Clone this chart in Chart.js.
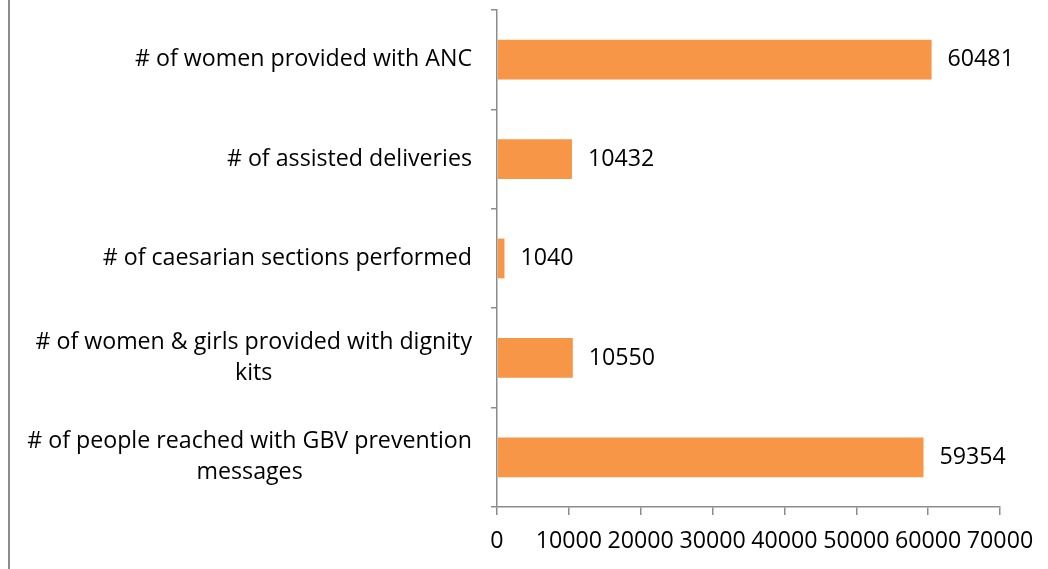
<!DOCTYPE html>
<html>
<head>
<meta charset="utf-8">
<script src="https://cdn.jsdelivr.net/npm/chart.js@4/dist/chart.umd.min.js"></script>
<style>
html, body { margin: 0; padding: 0; background: #fff; }
#wrap { position: relative; width: 1048px; height: 569px; }
#frame { position: absolute; left: 8px; top: 0; height: 569px; border-left: 2px solid #8c8c8c; }
canvas { position: absolute; left: 0; top: 0; }
</style>
</head>
<body>
<div id="wrap">
    <canvas id="chart" width="1048" height="569"></canvas>
    <div id="frame"></div>
</div>
<script>
// category labels, one entry per line (wrapped like the original)
var categories = [
    ['# of women provided with ANC'],
    ['# of assisted deliveries'],
    ['# of caesarian sections performed'],
    ['# of women & girls provided with dignity', 'kits'],
    ['# of people reached with GBV prevention', 'messages']
];
var values = [60481, 10432, 1040, 10550, 59354];
var x_min = 0;
var x_max = 70000;
var x_step = 10000;

var font_family = '"Open Sans", "Noto Sans", sans-serif';
var font_size = 23.2;
var line_height = 31;
var bar_color = '#F79646';
var axis_color = '#8c8c8c';

var category_labels_plugin = {
    id: 'category_labels',
    afterDraw: function(chart)
    {
        var ctx = chart.ctx;
        var y_scale = chart.scales.y;
        ctx.save();
        ctx.font = font_size + 'px ' + font_family;
        ctx.fillStyle = '#000';
        ctx.textAlign = 'center';
        ctx.textBaseline = 'middle';
        categories.forEach(function(lines, i) {
            var widest = Math.max.apply(null, lines.map(l => ctx.measureText(l).width));
            var cx = y_scale.right - 25 - widest / 2;
            var cy = y_scale.getPixelForValue(i);
            var top = cy - (lines.length - 1) * line_height / 2;
            lines.forEach((l, j) => ctx.fillText(l, cx, top + j * line_height));
        });
        ctx.restore();
    }
};

var value_labels_plugin = {
    id: 'value_labels',
    afterDatasetsDraw: function(chart)
    {
        var ctx = chart.ctx;
        var meta = chart.getDatasetMeta(0);
        ctx.save();
        ctx.font = font_size + 'px ' + font_family;
        ctx.fillStyle = '#000';
        ctx.textAlign = 'left';
        ctx.textBaseline = 'middle';
        meta.data.forEach(function(bar, i) {
            ctx.fillText(String(values[i]), bar.x + 16, bar.y);
        });
        ctx.restore();
    }
};

var chart = new Chart(document.getElementById('chart'), {
    type: 'bar',
    data: {
        labels: categories.map(c => c.join(' ')),
        datasets: [{
            data: values,
            backgroundColor: bar_color,
            borderWidth: 0,
            barPercentage: 0.5,
            categoryPercentage: 0.8
        }]
    },
    options: {
        indexAxis: 'y',
        responsive: false,
        animation: false,
        layout: { padding: { left: 0, top: 10, right: 48, bottom: 10 } },
        plugins: {
            legend: { display: false },
            tooltip: { enabled: false }
        },
        scales: {
            x: {
                min: x_min,
                max: x_max,
                border: { color: axis_color, width: 1.5 },
                grid: { drawOnChartArea: false, drawTicks: true, tickLength: 8, color: axis_color, lineWidth: 1.5 },
                ticks: {
                    stepSize: x_step,
                    maxRotation: 0,
                    autoSkip: false,
                    padding: 12,
                    color: '#000',
                    font: { family: font_family, size: font_size },
                    callback: function(v) { return String(v); }
                },
                afterFit: function(scale) { scale.height = 52; }
            },
            y: {
                offset: true,
                border: { color: axis_color, width: 1.5 },
                grid: { offset: true, drawOnChartArea: false, drawTicks: true, tickLength: 6, color: axis_color, lineWidth: 1.5 },
                ticks: { display: false },
                afterFit: function(scale) { scale.width = 497; }
            }
        }
    },
    plugins: [category_labels_plugin, value_labels_plugin]
});
</script>
</body>
</html>
